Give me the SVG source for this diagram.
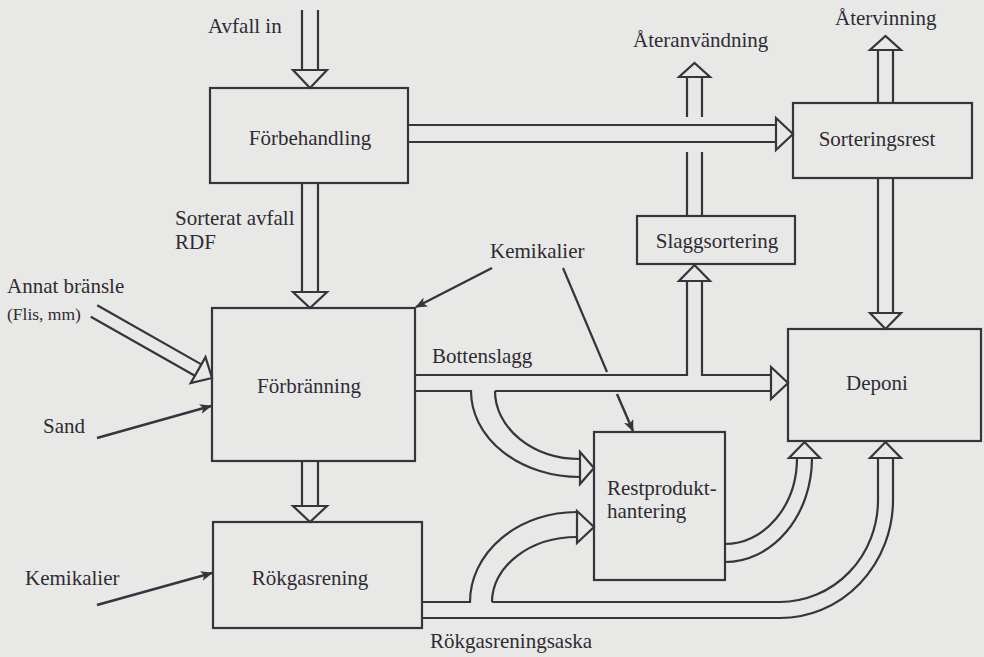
<svg xmlns="http://www.w3.org/2000/svg" width="984" height="657" viewBox="0 0 984 657">
<defs>
<style>
.bg{fill:#e8e8e6}
.box{fill:none;stroke:#38333d;stroke-width:2.2}
.ln{fill:none;stroke:#38333d;stroke-width:2.2;stroke-linecap:butt}
.head{fill:#e8e8e6;stroke:#38333d;stroke-width:2.2;stroke-linejoin:miter}
.arr{fill:none;stroke:#38333d;stroke-width:2.4;marker-end:url(#solid)}
text{font-family:"Liberation Serif","Times New Roman",serif;font-size:21px;fill:#2f2b35}
.c{text-anchor:middle}
.sm{font-size:17.5px}
</style>
<marker id="solid" viewBox="0 0 12 10" refX="11" refY="5" markerWidth="12" markerHeight="10" markerUnits="userSpaceOnUse" orient="auto">
<path d="M0,0 L12,5 L0,10 L3,5 Z" fill="#38333d"/>
</marker>
</defs>
<rect class="bg" x="0" y="0" width="984" height="657"/>

<g id="connectors">
<!-- Avfall in -->
<g id="c-avfall-in">
<path class="ln" d="M302,10 V70 M318,10 V70"/>
<polygon class="head" points="293,70 327,70 310,88"/>
</g>
<!-- Förbehandling -> Sorteringsrest -->
<g id="c-forb-sort">
<path class="ln" d="M408,125 H776 M408,142 H776"/>
<polygon class="head" points="776,118 776,150 793,134"/>
</g>
<!-- Förbehandling -> Förbränning -->
<g id="c-forb-forbr">
<path class="ln" d="M302,183 V292 M318,183 V292"/>
<polygon class="head" points="293,292 327,292 310,308"/>
</g>
<!-- Sorteringsrest -> Återvinning -->
<g id="c-atervinning">
<path class="ln" d="M878,103 V50 M893,103 V50"/>
<polygon class="head" points="870,50 901,50 885.5,36"/>
</g>
<!-- Sorteringsrest -> Deponi -->
<g id="c-sort-deponi">
<path class="ln" d="M878,178 V313 M893,178 V313"/>
<polygon class="head" points="870,313 901,313 885.5,329"/>
</g>
<!-- Slaggsortering -> Återanvändning -->
<g id="c-ateranvandning">
<path class="ln" d="M687,216 V152 M702,216 V152 M687,117 V77 M702,117 V77"/>
<polygon class="head" points="679,77 710,77 694.5,63"/>
</g>
<!-- Bottenslagg -->
<g id="c-bottenslagg">
<path class="ln" d="M415,375 H687 V281 M702,281 V375 H771"/>
<path class="ln" d="M415,391 H471 A109,86 0 0 0 580,477"/>
<path class="ln" d="M495,391 A85,68 0 0 0 580,459"/>
<path class="ln" d="M495,391 H771"/>
<polygon class="head" points="679,281 710,281 694.5,265"/>
<polygon class="head" points="771,367 771,399 788,383"/>
<polygon class="head" points="580,452 580,484 594,468"/>
</g>
<!-- Kemikalier (middle) -->
<g id="c-kemikalier-mid">
<path class="arr" d="M492,268 L416,307"/>
<path class="ln" d="M563,268 L607,372"/>
<path class="arr" d="M617,394 L633,431"/>
</g>
<!-- Annat bränsle -->
<g id="c-annat">
<path class="ln" d="M97.2,305.3 L201.3,364.4 M90.8,316.7 L194.9,375.8"/>
<polygon class="head" points="205.5,357.1 190.7,383.1 212,378"/>
</g>
<!-- Sand -->
<g id="c-sand">
<path class="arr" d="M97,438 L211,406"/>
</g>
<!-- Kemikalier (left) -->
<g id="c-kemikalier-left">
<path class="arr" d="M97,605 L212,573"/>
</g>
<!-- Förbränning -> Rökgasrening -->
<g id="c-forbr-rokgas">
<path class="ln" d="M302,461 V506 M318,461 V506"/>
<polygon class="head" points="293,506 327,506 310,522"/>
</g>
<!-- Rökgasreningsaska -->
<g id="c-rokgasaska">
<path class="ln" d="M422,602 H470 A107,90 0 0 1 577,512"/>
<path class="ln" d="M492,602 A85,65 0 0 1 577,537"/>
<path class="ln" d="M492,602 H780 A98,102 0 0 0 878,500 V458"/>
<path class="ln" d="M422,618 H780 A113,118 0 0 0 893,500 V458"/>
<polygon class="head" points="577,511 577,543 594,527"/>
<polygon class="head" points="870,458 901,458 885.5,442"/>
</g>
<!-- Restprodukthantering -> Deponi -->
<g id="c-rest-deponi">
<path class="ln" d="M725,544 A72,86 0 0 0 797,458"/>
<path class="ln" d="M725,562 A87,104 0 0 0 812,458"/>
<polygon class="head" points="789,458 820,458 804.5,442"/>
</g>
</g>

<g id="forbehandling">
<rect class="box" x="210" y="88" width="198" height="95"/>
<text class="c" x="310" y="145">Förbehandling</text>
</g>
<g id="sorteringsrest">
<rect class="box" x="793" y="103" width="179" height="75"/>
<text class="c" x="877" y="146">Sorteringsrest</text>
</g>
<g id="slaggsortering">
<rect class="box" x="637" y="216" width="158" height="48"/>
<text class="c" x="717" y="248">Slaggsortering</text>
</g>
<g id="forbranning">
<rect class="box" x="212" y="308" width="203" height="153"/>
<text class="c" x="309" y="393">Förbränning</text>
</g>
<g id="deponi">
<rect class="box" x="788" y="329" width="193" height="112"/>
<text class="c" x="877" y="390">Deponi</text>
</g>
<g id="restprodukthantering">
<rect class="box" x="594" y="432" width="131" height="148"/>
<text x="607" y="495">Restprodukt-</text>
<text x="607" y="518">hantering</text>
</g>
<g id="rokgasrening">
<rect class="box" x="213" y="522" width="209" height="106"/>
<text class="c" x="310" y="585">Rökgasrening</text>
</g>

<g id="labels">
<text x="208" y="33">Avfall in</text>
<text x="175" y="225">Sorterat avfall</text>
<text x="175" y="249">RDF</text>
<text x="7" y="293">Annat bränsle</text>
<text class="sm" x="7" y="320">(Flis, mm)</text>
<text x="43" y="433">Sand</text>
<text x="25" y="585">Kemikalier</text>
<text x="490" y="258">Kemikalier</text>
<text x="432" y="363">Bottenslagg</text>
<text x="430" y="648">Rökgasreningsaska</text>
<text x="633" y="47">Återanvändning</text>
<text x="835" y="25">Återvinning</text>
</g>
</svg>
